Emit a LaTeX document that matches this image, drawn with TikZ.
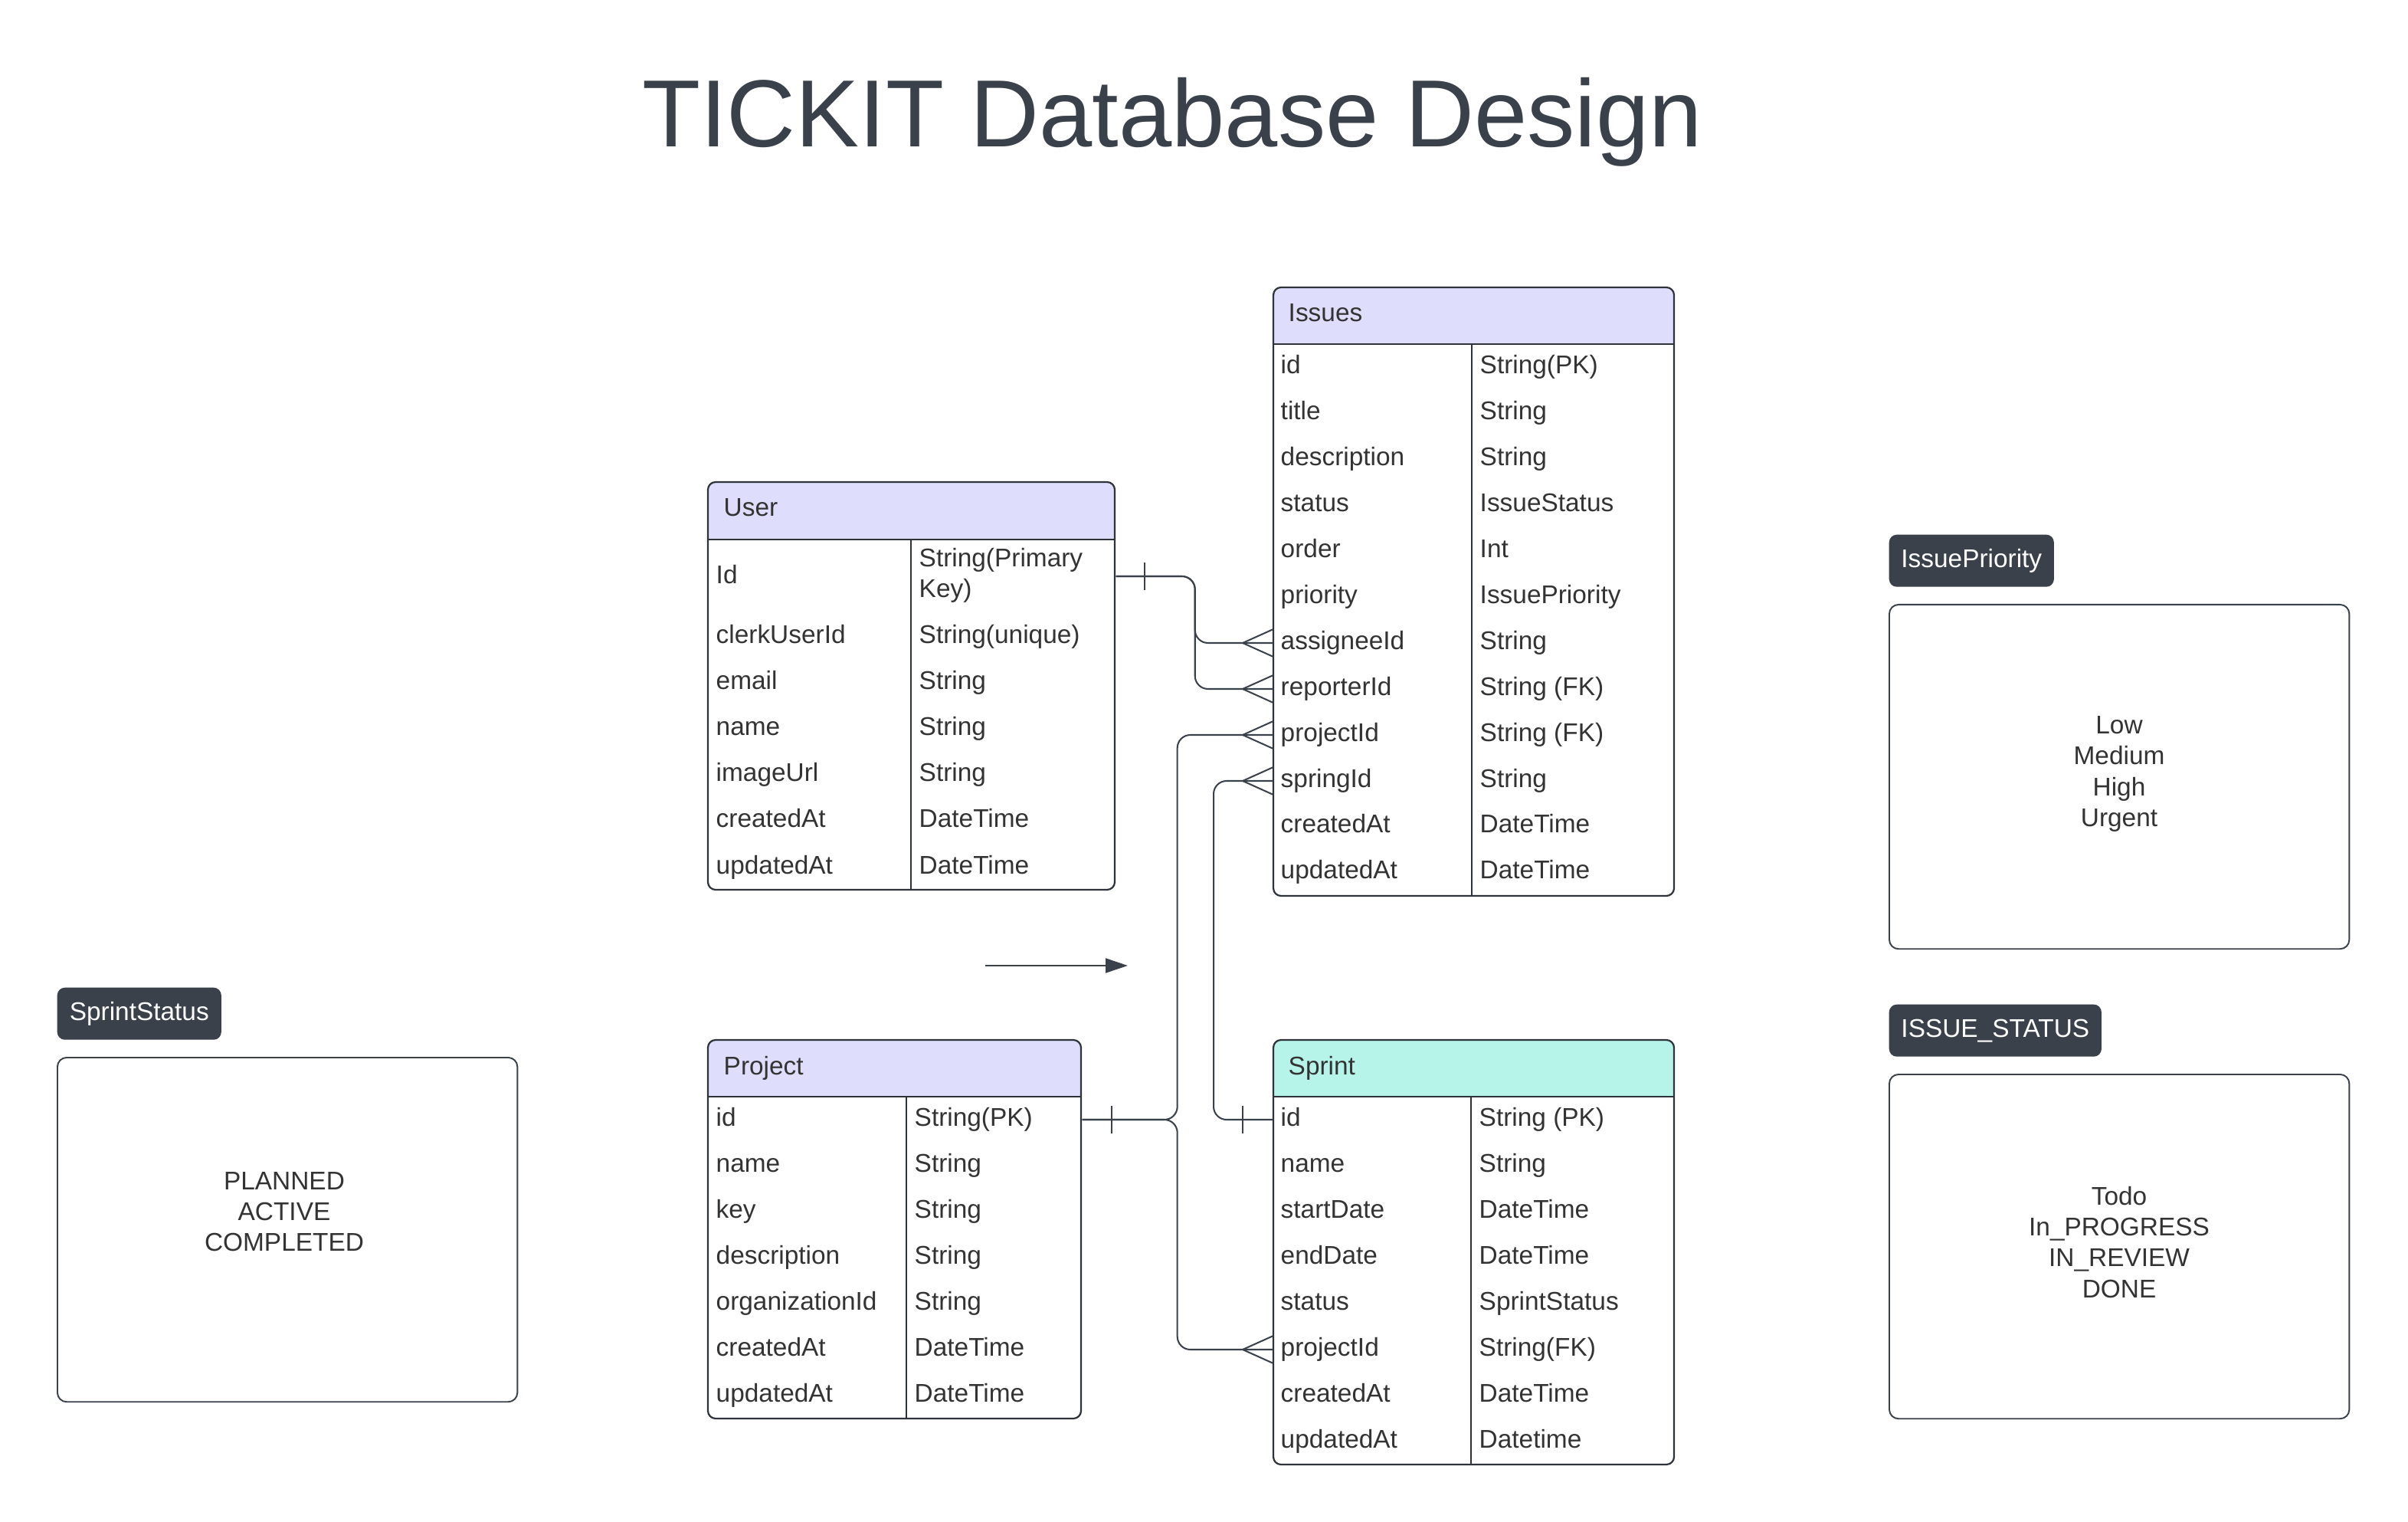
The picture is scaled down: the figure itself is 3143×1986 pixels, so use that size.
\documentclass[tikz,border=0pt]{standalone}
\usepackage{fontspec}
\setmainfont{Liberation Sans}
\usetikzlibrary{arrows.meta}
\definecolor{ink}{HTML}{3A414A}
\definecolor{tline}{HTML}{2E3239}
\definecolor{txt}{HTML}{333333}
\definecolor{hdrA}{HTML}{DEDEFC}
\definecolor{hdrB}{HTML}{B6F4EA}
\newcommand\bodyfont{\fontsize{9.5pt}{11.4pt}\selectfont}
% x1, x2, xdiv, ytop, yheader, ybottom, header colour
\newcommand\ertbl[7]{%
  \begin{scope}
    \clip[rounded corners=0.1cm] (#1,#4) rectangle (#2,#6);
    \fill[white] (#1,#4) rectangle (#2,#6);
    \fill[#7] (#1,#4) rectangle (#2,#5);
  \end{scope}
  \draw[tbl, rounded corners=0.1cm] (#1,#4) rectangle (#2,#6);
  \draw[tbl] (#1,#5) -- (#2,#5);
  \draw[tbl] (#3,#5) -- (#3,#6);
}
\newcommand\crowfoot[1]{\draw[ink, line width=0.58pt] ([yshift=0.18cm]#1) -- ([xshift=-0.4cm]#1) -- ([yshift=-0.18cm]#1);}
\newcommand\onebar[2]{\draw[ink, line width=0.58pt] ([xshift=#2,yshift=0.18cm]#1) -- ([xshift=#2,yshift=-0.18cm]#1);}
\begin{document}
\begin{tikzpicture}[x=0.01cm,y=-0.01cm,
  tbl/.style={draw=tline, line width=0.63pt},
  conn/.style={draw=ink, line width=0.58pt, rounded corners=0.17cm},
  cell/.style={anchor=base west, inner sep=0pt, font=\bodyfont, text=txt},
  rowbox/.style={anchor=west, inner sep=0pt, minimum height=0.6cm},
  enumlabel/.style={anchor=north west, fill=ink, text=white, rounded corners=0.1cm, font=\bodyfont, inner sep=0pt, minimum height=0.68cm},
  enumbox/.style={anchor=north west, draw=ink, line width=0.55pt, rounded corners=0.12cm, inner sep=0pt, minimum width=6cm, minimum height=4.49cm},
  enumtext/.style={font=\bodyfont, text=txt, align=center, inner sep=0pt},
]
\useasboundingbox (0,0) rectangle (3143,1986);

% title
\node[font=\fontsize{35.4pt}{40pt}\selectfont, text=ink, anchor=base] (title) at (1530,192) {TICKIT Database Design};

% ---------- User ----------
\ertbl{924}{1455}{1189}{629}{704}{1161}{hdrA}
\node[cell] (user) at (944,674) {User};
\node[rowbox, minimum width=5.31cm] (user-Id) at (924,752) {};
\node[cell] (user-Id-n) at (934,762) {Id};
\node[anchor=west, inner sep=0pt, font=\bodyfont, text=txt, align=left] (user-Id-t) at (1199,751) {String(Primary\\Key)};
\foreach \a/\b [count=\i from 0] in {clerkUserId/String(unique),email/String,name/String,imageUrl/String,createdAt/DateTime,updatedAt/DateTime}{
  \node[rowbox, minimum width=5.31cm] (user-\a) at (924,830+60*\i) {};
  \node[cell] (user-\a-n) at (934,840+60*\i) {\a};
  \node[cell] (user-\a-t) at (1199,840+60*\i) {\b};
}

% ---------- Issues ----------
\ertbl{1662}{2185}{1921}{375}{449}{1169}{hdrA}
\node[cell] (issues) at (1681,420) {Issues};
\foreach \a/\b [count=\i from 0] in {id/String(PK),title/String,description/String,status/IssueStatus,order/Int,priority/IssuePriority,assigneeId/String,reporterId/String (FK),projectId/String (FK),springId/String,createdAt/DateTime,updatedAt/DateTime}{
  \node[rowbox, minimum width=5.23cm] (issues-\a) at (1662,479+60*\i) {};
  \node[cell] (issues-\a-n) at (1671,488+59.9*\i) {\a};
  \node[cell] (issues-\a-t) at (1931,488+59.9*\i) {\b};
}

% ---------- Project ----------
\ertbl{924}{1411}{1183}{1357}{1431}{1851}{hdrA}
\node[cell] (project) at (944,1402) {Project};
\foreach \a/\b [count=\i from 0] in {id/String(PK),name/String,key/String,description/String,organizationId/String,createdAt/DateTime,updatedAt/DateTime}{
  \node[rowbox, minimum width=4.87cm] (project-\a) at (924,1461+60*\i) {};
  \node[cell] (project-\a-n) at (934,1469+60*\i) {\a};
  \node[cell] (project-\a-t) at (1193,1469+60*\i) {\b};
}

% ---------- Sprint ----------
\ertbl{1662}{2185}{1920}{1357}{1431}{1911}{hdrB}
\node[cell] (sprint) at (1681,1402) {Sprint};
\foreach \a/\b [count=\i from 0] in {id/String (PK),name/String,startDate/DateTime,endDate/DateTime,status/SprintStatus,projectId/String(FK),createdAt/DateTime,updatedAt/Datetime}{
  \node[rowbox, minimum width=5.23cm] (sprint-\a) at (1662,1461+60*\i) {};
  \node[cell] (sprint-\a-n) at (1671,1469+60*\i) {\a};
  \node[cell] (sprint-\a-t) at (1930,1469+60*\i) {\b};
}

% ---------- connectors ----------
\draw[conn] (user-Id.east) -- ++(103,0) |- (issues-assigneeId.west);
\draw[conn] (user-Id.east) -- ++(103,0) |- (issues-reporterId.west);
\onebar{user-Id.east}{0.37cm}
\crowfoot{issues-assigneeId.west}
\crowfoot{issues-reporterId.west}

\draw[conn] (project-id.east) -- ++(124,0) |- (issues-projectId.west);
\draw[conn] (project-id.east) -- ++(124,0) |- (sprint-projectId.west);
\onebar{project-id.east}{0.38cm}
\crowfoot{issues-projectId.west}
\crowfoot{sprint-projectId.west}

\draw[conn] (sprint-id.west) -- ++(-78,0) |- (issues-springId.west);
\onebar{sprint-id.west}{-0.40cm}
\crowfoot{issues-springId.west}

% free arrow
\coordinate (arrS) at (1286,1260);
\coordinate (arrE) at (1472,1260);
\draw[ink, line width=0.58pt, -{Triangle[length=0.29cm,width=0.19cm]}] (arrS) -- (arrE);

% ---------- enums ----------
\node[enumlabel, minimum width=2.14cm] (sprintstatus-lbl) at (74,1288) {SprintStatus};
\node[enumbox] (sprintstatus) at (74,1379) {};
\node[enumtext] (sprintstatus-txt) at (371,1581) {PLANNED\\ACTIVE\\COMPLETED};

\node[enumlabel, minimum width=2.15cm] (issuepriority-lbl) at (2465,697) {IssuePriority};
\node[enumbox] (issuepriority) at (2465,788) {};
\node[enumtext] (issuepriority-txt) at (2766,1010) {Low\\Medium\\High\\Urgent};

\node[enumlabel, minimum width=2.77cm] (issuestatus-lbl) at (2465,1310) {ISSUE\_STATUS};
\node[enumbox] (issuestatus) at (2465,1401) {};
\node[enumtext] (issuestatus-txt) at (2766,1621) {Todo\\In\_PROGRESS\\IN\_REVIEW\\DONE};
\end{tikzpicture}
\end{document}
